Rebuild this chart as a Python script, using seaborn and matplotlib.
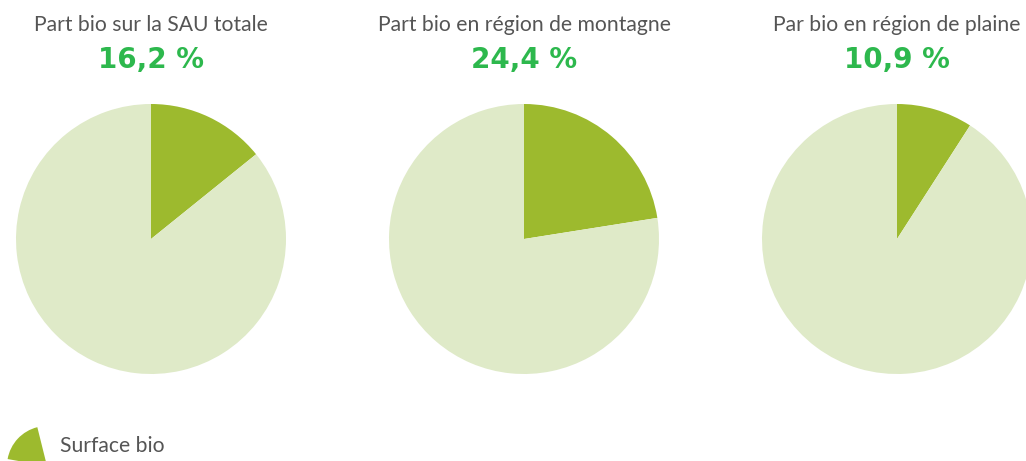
import matplotlib
matplotlib.use("Agg")
import matplotlib.pyplot as plt
from matplotlib.patches import Wedge
import seaborn as sns

titles = ["Part bio sur la SAU totale", "Part bio en région de montagne", "Par bio en région de plaine"]
# headline figures printed above each pie
bio_share_label = [16.2, 24.4, 10.9]
# share drawn by the green wedge, as measured on the picture
bio_share_drawn = [14.2, 22.5, 9.1]
legend_label = "Surface bio"

bio_color = "#9dba2e"
rest_color = "#dfeac8"
pct_color = "#2db84d"
text_color = "#555555"

sns.set_theme(style="white")
plt.rcParams["font.family"] = ["Lato", "DejaVu Sans"]

W, H = 1026, 461
fig = plt.figure(figsize=(W / 100, H / 100), dpi=100)

centers_x = [151, 524, 897]
cy, r = 239, 135

for cx, title, label, share in zip(centers_x, titles, bio_share_label, bio_share_drawn):
    ax = fig.add_axes([(cx - r) / W, (H - cy - r) / H, 2 * r / W, 2 * r / H])
    ax.pie([share, 100 - share], colors=[bio_color, rest_color], startangle=90,
           counterclock=False, radius=1, wedgeprops=dict(linewidth=0))
    ax.set_xlim(-1, 1)
    ax.set_ylim(-1, 1)
    ax.set_aspect("equal")
    ax.axis("off")
    fig.text(cx / W, 1 - 25 / H, title, ha="center", va="center",
             fontsize=15.2, color=text_color)
    pct = f"{label:.1f}".replace(".", ",") + " %"
    fig.text(cx / W, 1 - 60 / H, pct, ha="center", va="center",
             fontsize=20, fontweight="bold", color=pct_color, family="DejaVu Sans")

# legend icon: small wedge cut by the bottom edge
lax = fig.add_axes([0, 0, 1, 1])
lax.set_xlim(0, W)
lax.set_ylim(H, 0)
lax.axis("off")
lax.add_patch(Wedge((47, 466), 40, 190, 256, color=bio_color, lw=0))
lax.text(60, 446, legend_label, ha="left", va="center", fontsize=15.2, color=text_color)

fig.savefig("out.png", dpi=100)
